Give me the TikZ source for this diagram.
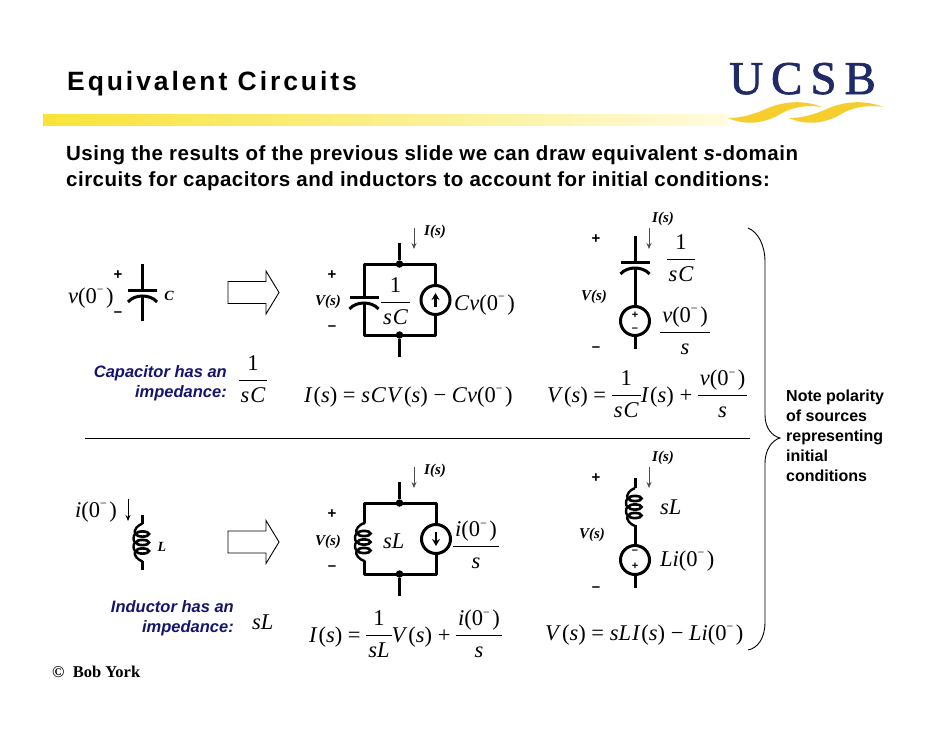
\documentclass[tikz,border=0pt]{standalone}
\usepackage{fontspec}
\setmainfont{Liberation Serif}
\newfontfamily\sansf{Liberation Sans}
\usetikzlibrary{arrows.meta}
\definecolor{navy}{HTML}{14146E}
\definecolor{logoblue}{HTML}{1F2A66}
\definecolor{swoosh}{HTML}{F5CE2E}
\definecolor{barl}{HTML}{F8E338}
\definecolor{barr}{HTML}{FFFBDD}
\setlength{\arrayrulewidth}{0.9pt}
\newcommand\Zm{0\raisebox{.42em}{\fontsize{12}{12}\selectfont −}\kern2.5pt}
\newcommand\fra[2]{\raisebox{\dimexpr 6.5pt-.5\height+.5\depth}{\def\arraystretch{1.29}\begin{tabular}{@{\hskip2pt}c@{\hskip2pt}}#1\\\hline #2\end{tabular}}}
\newcommand\itt[1]{\textit{#1}}
\newcommand\Is{\itt{I}\kern1pt(\itt{s})}
\newcommand\Vs{\itt{V}\kern1pt(\itt{s})}
\newcommand\sC{\itt{s}\kern1pt\itt{C}}
\newcommand\sL{\itt{s}\itt{L}}
\newcommand\vz{\itt{v}(\Zm)}
\newcommand\iz{\itt{i}(\Zm)}
\tikzset{
  wire/.style={line width=3pt},
  thinarrow/.style={line width=0.9pt,draw=black!70,-{Stealth[length=6pt,width=5pt]}},
  srcn/.style={circle,draw,line width=3pt,minimum size=29pt,inner sep=0pt},
  dotn/.style={circle,fill,minimum size=7.5pt,inner sep=0pt},
  eqn/.style={inner sep=0pt,font=\fontsize{22.5}{24}\selectfont},
  eqw/.style={eqn,anchor=base west},
  pm/.style={inner sep=0pt,font=\sansf\bfseries\fontsize{15}{15}\selectfont},
  pms/.style={inner sep=0pt,font=\sansf\bfseries\fontsize{11}{11}\selectfont},
  vlab/.style={inner sep=0pt,font=\bfseries\itshape\fontsize{15}{17}\selectfont},
  blue/.style={inner sep=0pt,anchor=base east,text=navy,font=\sansf\bfseries\itshape\fontsize{16.5}{20}\selectfont},
  blockarrow/.style={draw,line width=0.9pt,fill=white},
  note/.style={inner sep=0pt,anchor=base west,font=\sansf\bfseries\fontsize{16}{20}\selectfont},
  bodytext/.style={inner sep=0pt,anchor=base west,font=\sansf\bfseries\fontsize{20.5}{24}\selectfont},
}
\newcommand\capacitor[3]{% x, plate y, (unused)
  \draw[wire] (#1-14.5,#2) -- (#1+14.5,#2);
  \draw[wire] (#1-14.5,#2+12) .. controls (#1-8,#2+4) and (#1+8,#2+4) .. (#1+14.5,#2+12);
}
\newcommand\coil[2]{% x, centre y
  \draw[line width=2.4pt] (#1,#2-19) .. controls (#1-5,#2-17) and (#1-9,#2-13) .. (#1-7.5,#2-8.5)
     .. controls (#1-9.5,#2-6) and (#1-9.5,#2-2) .. (#1-7.5,#2)
     .. controls (#1-9.5,#2+2) and (#1-9.5,#2+6) .. (#1-7.5,#2+8.5)
     .. controls (#1-9,#2+13) and (#1-5,#2+17) .. (#1,#2+19);
  \draw[line width=2.6pt] (#1,#2-8.5) ellipse (6.5 and 2.6);
  \draw[line width=2.6pt] (#1,#2) ellipse (6.5 and 2.6);
  \draw[line width=2.6pt] (#1,#2+8.5) ellipse (6.5 and 2.6);
}
\newcommand\blockarr[1]{%
  \draw[blockarrow] (228,#1-11) -- (266,#1-11) -- (266,#1-21.5) -- (279,#1) -- (266,#1+21.5) -- (266,#1+11) -- (228,#1+11) -- cycle;
}
\begin{document}
\begin{tikzpicture}[x=1pt,y=-1pt]
\useasboundingbox (0,0) rectangle (942,728);
% header
\node[inner sep=0pt,anchor=base west,font=\sansf\bfseries\fontsize{26.5}{30}\selectfont] (title) at (67,90) {\addfontfeature{LetterSpace=11}Equivalent Circuits};
\shade[left color=barl,right color=barr] (43,114) rectangle (728,125);
\node[inner sep=0pt,anchor=base west,text=logoblue,font=\fontsize{47}{50}\selectfont] (logo) at (729,94) {\addfontfeature{LetterSpace=17,FakeBold=1.5}UCSB};
\fill[swoosh] (728,118) .. controls (748,127) and (768,122) .. (782,113) .. controls (795,106) and (810,105) .. (822,107) .. controls (805,100) and (785,101) .. (768,108) .. controls (755,114) and (742,118) .. (728,118) -- cycle;
\fill[swoosh] (789,118) .. controls (809,127) and (829,122) .. (843,113) .. controls (856,106) and (871,105) .. (883,107) .. controls (866,100) and (846,101) .. (829,108) .. controls (816,114) and (803,118) .. (789,118) -- cycle;
% body
\node[bodytext] (b1) at (66,160) {\addfontfeature{LetterSpace=2.4}Using the results of the previous slide we can draw equivalent \textit{s}-domain};
\node[bodytext] (b2) at (66,186) {\addfontfeature{LetterSpace=2.4}circuits for capacitors and inductors to account for initial conditions:};

% ---- capacitor, left
\coordinate (c1t) at (142,264); \coordinate (c1b) at (142,320.5);
\draw[wire] (c1t) -- (142,290); \draw[wire] (142,297) -- (c1b);
\capacitor{142.5}{290}{}
\node[pm] (c1p) at (118,275) {+};
\node[pm] (c1m) at (118,314) {–};
\node[eqw] (c1v) at (68,303) {\vz};
\node[inner sep=0pt,font=\bfseries\itshape\fontsize{14}{14}\selectfont] (c1C) at (169,296) {C};
\blockarr{292.5}
\node[blue] (capa) at (227,377) {Capacitor has an};
\node[blue] (capb) at (227,397) {impedance:};
\node[eqn] (capz) at (253,380.5) {\fra{1}{\sC}};

% ---- capacitor, middle
\node[dotn] (m1t) at (399.5,264) {};
\node[dotn] (m1b) at (399.5,335) {};
\node[srcn] (m1s) at (435.5,300) {};
\coordinate (m1tt) at (399.5,243); \coordinate (m1bb) at (399.5,357);
\draw[wire,line cap=round,line join=round] (m1s.north) -- (435.5,264) -- (m1t.center) -- (364,264) -- (364,297);
\draw[wire,line cap=round,line join=round] (m1s.south) -- (435.5,335) -- (m1b.center) -- (364,335) -- (364,304);
\draw[wire] (m1tt) -- (m1t); \draw[wire] (m1b) -- (m1bb);
\capacitor{364}{297}{}
\draw[line width=2.2pt,-{Stealth[length=7pt,width=8pt]}] (435.5,307) -- (435.5,293);
\coordinate (m1a) at (414,228); \coordinate (m1c) at (414,249);
\draw[thinarrow] (m1a) -- (m1c);
\node[vlab] (m1i) at (435,232) {I(s)};
\node[pm] (m1p) at (332,275) {+};
\node[vlab] (m1v) at (328,302) {V(s)};
\node[pm] (m1m) at (332,328) {–};
\node[eqn] (m1z) at (395.5,302) {\fra{1}{\sC}};
\node[eqw] (m1l) at (454,310) {\itt{C}\itt{v}(\Zm)};
\node[eqw] (m1e) at (304,402) {\Is\ = \sC\kern1pt\Vs\ − \itt{C}\itt{v}(\Zm)};

% ---- capacitor, right
\coordinate (r1t) at (635,236); \coordinate (r1b) at (635,349);
\node[srcn] (r1s) at (635,321) {};
\draw[wire] (r1t) -- (635,262); \draw[wire] (635,268) -- (r1s.north); \draw[wire] (r1s.south) -- (r1b);
\capacitor{635}{262}{}
\node[pms] (r1sp) at (635,315.5) {+};
\node[pms] (r1sm) at (635,329.5) {–};
\coordinate (r1a) at (649,228); \coordinate (r1c) at (649,249);
\draw[thinarrow] (r1a) -- (r1c);
\node[vlab] (r1i) at (663,219) {I(s)};
\node[pm] (r1p) at (596,239) {+};
\node[vlab] (r1v) at (594,297) {V(s)};
\node[pm] (r1m) at (596,349) {–};
\node[eqn] (r1z) at (681,259) {\fra{1}{\sC}};
\node[eqn] (r1f) at (685,332) {\fra{\vz}{\itt{s}}};
\node[eqw] (r1e) at (547,402) {\Vs\ = \fra{1}{\sC}\Is\ + \fra{\vz}{\itt{s}}};

% divider and brace
\coordinate (divl) at (85,438); \coordinate (divr) at (750,438);
\draw[line width=0.9pt] (divl) -- (divr);
\coordinate (bt) at (748,228); \coordinate (bm) at (780,438); \coordinate (bb) at (748,650);
\draw[line width=0.9pt] (bt) .. controls (758,232) and (765,245) .. (765,262) -- (765,415) .. controls (765,428) and (772,436) .. (bm)
  .. controls (772,440) and (765,450) .. (765,463) -- (765,622) .. controls (765,638) and (758,648) .. (bb);
\node[note] (n1) at (786,401) {Note polarity};
\node[note] (n2) at (786,421) {of sources};
\node[note] (n3) at (786,441) {representing};
\node[note] (n4) at (786,461) {initial};
\node[note] (n5) at (786,481) {conditions};

% ---- inductor, left
\coordinate (l1t) at (142,515); \coordinate (l1b) at (142,570);
\draw[wire] (l1t) -- (142,524); \draw[wire] (142,561) -- (l1b);
\coil{142.5}{542.5}
\node[eqw] (l1i) at (75,517) {\iz};
\coordinate (l1a) at (128,499); \coordinate (l1c) at (128,521);
\draw[line width=0.9pt,-{Stealth[length=6pt,width=5pt]}] (l1a) -- (l1c);
\node[inner sep=0pt,font=\bfseries\itshape\fontsize{14}{14}\selectfont] (l1L) at (162,547) {L};
\blockarr{542}
\node[blue] (inda) at (234,612) {Inductor has an};
\node[blue] (indb) at (234,632) {impedance:};
\node[eqw] (indz) at (252,629) {\sL};
\node[inner sep=0pt,anchor=base west,font=\bfseries\fontsize{16.5}{18}\selectfont] (york) at (52,677) {©\ \ Bob York};

% ---- inductor, middle
\node[dotn] (m2t) at (399.5,503) {};
\node[dotn] (m2b) at (399.5,574) {};
\node[srcn] (m2s) at (436,539) {};
\coordinate (m2tt) at (399.5,482); \coordinate (m2bb) at (399.5,596);
\draw[wire,line cap=round,line join=round] (m2s.north) -- (436,503) -- (m2t.center) -- (364,503) -- (364,523);
\draw[wire,line cap=round,line join=round] (m2s.south) -- (436,574) -- (m2b.center) -- (364,574) -- (364,561);
\draw[wire] (m2tt) -- (m2t); \draw[wire] (m2b) -- (m2bb);
\coil{364}{542}
\draw[line width=2.2pt,-{Stealth[length=7pt,width=8pt]}] (436,532) -- (436,546);
\coordinate (m2a) at (414,467); \coordinate (m2c) at (414,488);
\draw[thinarrow] (m2a) -- (m2c);
\node[vlab] (m2i) at (435,471) {I(s)};
\node[pm] (m2p) at (332,514) {+};
\node[vlab] (m2v) at (328,542) {V(s)};
\node[pm] (m2m) at (332,568) {–};
\node[eqw] (m2z) at (383,548) {\sL};
\node[eqn] (m2f) at (476,546.5) {\fra{\iz}{\itt{s}}};
\node[eqw] (m2e) at (309,642) {\Is\ = \fra{1}{\sL}\Vs\ + \fra{\iz}{\itt{s}}};

% ---- inductor, right
\coordinate (r2t) at (635,478); \coordinate (r2b) at (635,588);
\node[srcn] (r2s) at (635,560) {};
\draw[wire] (r2t) -- (635,488); \draw[wire] (635,525) -- (r2s.north); \draw[wire] (r2s.south) -- (r2b);
\coil{635}{507}
\node[pms] (r2sm) at (635,552) {–};
\node[pms] (r2sp) at (635,566) {+};
\coordinate (r2a) at (649,467); \coordinate (r2c) at (649,488);
\draw[thinarrow] (r2a) -- (r2c);
\node[vlab] (r2i) at (663,458) {I(s)};
\node[pm] (r2p) at (596,478) {+};
\node[vlab] (r2v) at (592,535) {V(s)};
\node[pm] (r2m) at (596,589) {–};
\node[eqw] (r2l) at (660,514) {\sL};
\node[eqw] (r2k) at (660,566) {\itt{L}\itt{i}(\Zm)};
\node[eqw] (r2e) at (545,640) {\Vs\ = \sL\kern1pt\Is\ − \itt{L}\itt{i}(\Zm)};
\end{tikzpicture}
\end{document}
